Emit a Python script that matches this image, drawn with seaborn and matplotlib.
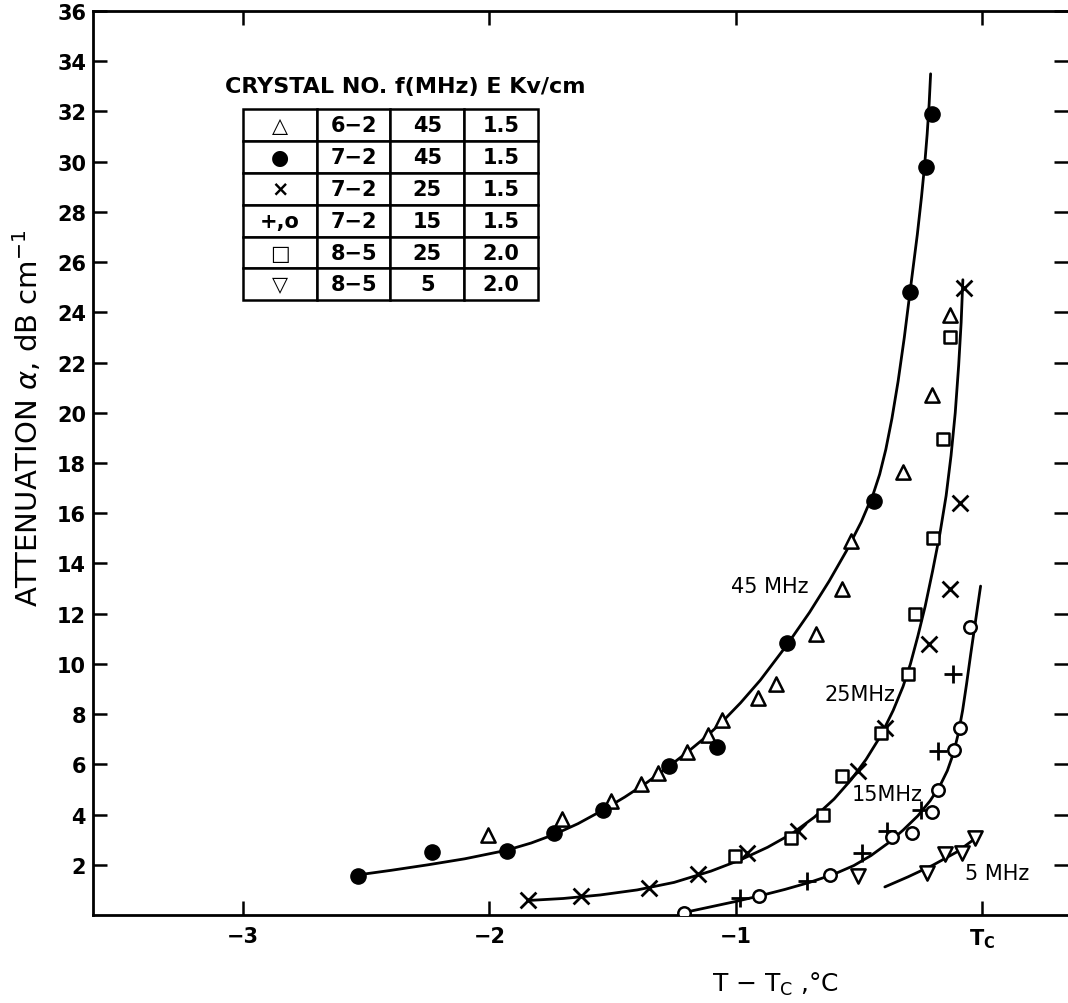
import matplotlib
matplotlib.use("Agg")
import matplotlib.pyplot as plt
import seaborn as sns

# ---------------- data ----------------
# 6-2, 45 MHz (open up-triangles)
tri_up_x = [-2.006, -1.705, -1.506, -1.384, -1.315, -1.198, -1.112, -1.056,
            -0.909, -0.836, -0.674, -0.568, -0.532, -0.321, -0.203, -0.130]
tri_up_y = [3.2, 3.82, 4.54, 5.2, 5.66, 6.5, 7.17, 7.77,
            8.65, 9.2, 11.2, 13.0, 14.9, 17.65, 20.7, 23.9]
# 7-2, 45 MHz (filled circles)
dot_x = [-2.533, -2.233, -1.929, -1.738, -1.539, -1.271, -1.076, -0.792,
         -0.438, -0.292, -0.227, -0.203]
dot_y = [1.55, 2.5, 2.55, 3.25, 4.2, 5.95, 6.7, 10.84, 16.5, 24.8, 29.8, 31.9]
# 7-2, 25 MHz (crosses)
cross_x = [-1.843, -1.628, -1.352, -1.153, -0.954, -0.747, -0.503, -0.394,
           -0.215, -0.130, -0.089, -0.073]
cross_y = [0.6, 0.76, 1.08, 1.63, 2.47, 3.35, 5.74, 7.45, 10.8, 13.0, 16.4, 24.98]
# 8-5, 25 MHz (open squares)
sq_x = [-1.003, -0.775, -0.646, -0.568, -0.410, -0.300, -0.272, -0.199, -0.158, -0.130]
sq_y = [2.35, 3.07, 3.98, 5.54, 7.25, 9.6, 12.0, 15.0, 18.96, 23.0]
# 7-2, 15 MHz (plus)
plus_x = [-0.982, -0.711, -0.487, -0.386, -0.248, -0.179, -0.118]
plus_y = [0.68, 1.35, 2.47, 3.35, 4.18, 6.53, 9.6]
# 7-2, 15 MHz (open circles)
ocirc_x = [-1.210, -0.905, -0.617, -0.365, -0.284, -0.203, -0.179, -0.114, -0.089, -0.049]
ocirc_y = [0.1, 0.76, 1.6, 3.1, 3.27, 4.1, 4.98, 6.57, 7.45, 11.47]
# 8-5, 5 MHz (open down-triangles)
tri_dn_x = [-0.503, -0.223, -0.150, -0.081, -0.028]
tri_dn_y = [1.55, 1.67, 2.43, 2.47, 3.07]

# hand-drawn curves
c45_x = [-2.533, -2.40, -2.25, -2.10, -1.93, -1.83, -1.734, -1.64, -1.539, -1.45,
         -1.36, -1.271, -1.198, -1.12, -1.056, -0.98, -0.90, -0.792, -0.70, -0.62,
         -0.55, -0.49, -0.44, -0.415, -0.39, -0.365, -0.34, -0.315, -0.292, -0.262,
         -0.245, -0.232, -0.222, -0.214, -0.208]
c45_y = [1.60, 1.78, 2.00, 2.24, 2.58, 2.87, 3.22, 3.64, 4.18, 4.70,
         5.28, 5.92, 6.47, 7.10, 7.68, 8.45, 9.35, 10.75, 12.05, 13.30,
         14.50, 15.65, 16.80, 17.55, 18.54, 19.78, 21.26, 22.99, 24.79, 27.10,
         28.60, 29.90, 31.10, 32.30, 33.50]
c25_x = [-1.843, -1.70, -1.55, -1.40, -1.25, -1.10, -0.98, -0.87, -0.77, -0.68,
         -0.60, -0.53, -0.47, -0.41, -0.36, -0.32, -0.29, -0.26, -0.23, -0.20,
         -0.17, -0.145, -0.125, -0.108, -0.094, -0.084, -0.077]
c25_y = [0.58, 0.66, 0.80, 1.00, 1.30, 1.75, 2.20, 2.70, 3.25, 3.90,
         4.62, 5.40, 6.20, 7.15, 8.15, 9.10, 10.0, 11.1, 12.3, 13.7,
         15.2, 16.7, 18.3, 20.0, 21.9, 23.6, 25.3]
c15_x = [-1.20, -1.10, -1.00, -0.90, -0.80, -0.70, -0.60, -0.52, -0.45, -0.38,
         -0.32, -0.26, -0.21, -0.17, -0.14, -0.115, -0.095, -0.078, -0.062, -0.045,
         -0.025, -0.005]
c15_y = [0.12, 0.33, 0.54, 0.77, 1.02, 1.30, 1.63, 1.97, 2.37, 2.87,
         3.38, 3.95, 4.55, 5.15, 5.75, 6.45, 7.25, 8.15, 9.20, 10.40,
         11.75, 13.10]
c5_x = [-0.394, -0.30, -0.20, -0.10, -0.02]
c5_y = [1.12, 1.52, 1.98, 2.52, 3.10]

# legend table
table_title = "CRYSTAL NO. f(MHz) E Kv/cm"
table_sym = ["\u25B3", "\u25CF", "\u00D7", "+,o", "\u25A1", "\u25BD"]
table_crystal = ["6\u22122", "7\u22122", "7\u22122", "7\u22122", "8\u22125", "8\u22125"]
table_freq = ["45", "45", "25", "15", "25", "5"]
table_field = ["1.5", "1.5", "1.5", "1.5", "2.0", "2.0"]

# curve labels
curve_labels = ["45 MHz", "25MHz", "15MHz", "5 MHz"]
label_x = [-0.861, -0.637, -0.528, -0.069]
label_y = [13.1, 8.8, 4.82, 1.67]
label_ha = ["center", "left", "left", "left"]

xtick_pos = [-3, -2, -1, 0]
xtick_lab = ["\u22123", "\u22122", "\u22121", r"$\mathregular{T_C}$"]
ytick_pos = list(range(2, 37, 2))

# ---------------- drawing ----------------
sns.set_theme(style="ticks")
plt.rcParams["font.family"] = ["DejaVu Sans"]
plt.rcParams["mathtext.fontset"] = "dejavusans"
for k in ["text.color", "axes.labelcolor", "xtick.color", "ytick.color", "axes.edgecolor"]:
    plt.rcParams[k] = "black"

fig = plt.figure(figsize=(10.68, 10.04), dpi=100)
fig.patch.set_facecolor("white")
ax = fig.add_axes([0.0871, 0.0876, 0.9129, 0.9004])
ax.set_facecolor("white")

for cx, cy in [(c45_x, c45_y), (c25_x, c25_y), (c15_x, c15_y), (c5_x, c5_y)]:
    sns.lineplot(x=cx, y=cy, sort=False, estimator=None, color="black",
                 linewidth=2.0, ax=ax, zorder=2)

open_kw = dict(facecolor="white", edgecolor="black", linewidth=1.8, zorder=3)
sns.scatterplot(x=tri_up_x, y=tri_up_y, marker="^", s=105, ax=ax, **open_kw)
sns.scatterplot(x=dot_x, y=dot_y, marker="o", s=120, color="black",
                edgecolor="black", linewidth=1, ax=ax, zorder=3)
sns.scatterplot(x=cross_x, y=cross_y, marker="x", s=130, color="black",
                linewidth=2.0, ax=ax, zorder=3)
sns.scatterplot(x=sq_x, y=sq_y, marker="s", s=70, ax=ax, **open_kw)
sns.scatterplot(x=plus_x, y=plus_y, marker="+", s=150, color="black",
                linewidth=2.0, ax=ax, zorder=3)
sns.scatterplot(x=ocirc_x, y=ocirc_y, marker="o", s=80, ax=ax, **open_kw)
sns.scatterplot(x=tri_dn_x, y=tri_dn_y, marker="v", s=105, ax=ax, **open_kw)

for t, x, y, ha in zip(curve_labels, label_x, label_y, label_ha):
    ax.text(x, y, t, ha=ha, va="center", fontsize=15, color="black", zorder=4)

ax.set_xlim(-3.61, 0.35)
ax.set_ylim(0, 36)
ax.set_xticks(xtick_pos)
ax.set_xticklabels(xtick_lab, fontsize=15, fontweight="bold")
ax.set_yticks(ytick_pos)
ax.set_yticklabels([str(v) for v in ytick_pos], fontsize=15, fontweight="bold")
ax.tick_params(axis="both", direction="in", length=10, width=1.8, color="black",
               top=True, right=True, labeltop=False, labelright=False)
ax.tick_params(axis="y", pad=5)
ax.tick_params(axis="x", pad=8)
for side in ["left", "bottom", "top"]:
    ax.spines[side].set_linewidth(2.0)
    ax.spines[side].set_color("black")
ax.spines["right"].set_visible(False)

ax.set_xlabel(r"T $-$ T$_\mathregular{C}$ ,°C", fontsize=18)
ax.xaxis.set_label_coords(0.70, -0.076)
ax.set_ylabel(r"ATTENUATION $\alpha$, dB cm$^{-1}$", fontsize=21)
ax.yaxis.set_label_coords(-0.067, 0.551)
ax.yaxis.label.set_va("center")
ax.xaxis.label.set_va("center")

# legend table
rows = [[s, c, f, e] for s, c, f, e in zip(table_sym, table_crystal, table_freq, table_field)]
tab = ax.table(cellText=rows, cellLoc="center", bbox=[0.1538, 0.680, 0.3026, 0.2116])
tab.auto_set_font_size(False)
tab.set_fontsize(15)
for (r, c), cell in tab.get_celld().items():
    cell.set_linewidth(1.8)
    cell.set_edgecolor("black")
    cell.set_facecolor("white")
    cell.get_text().set_fontweight("bold")
    cell.get_text().set_color("black")
ax.text(0.32, 0.917, table_title, transform=ax.transAxes, ha="center", va="center",
        fontsize=16, fontweight="bold")

fig.savefig("out.png", dpi=100, facecolor="white")
